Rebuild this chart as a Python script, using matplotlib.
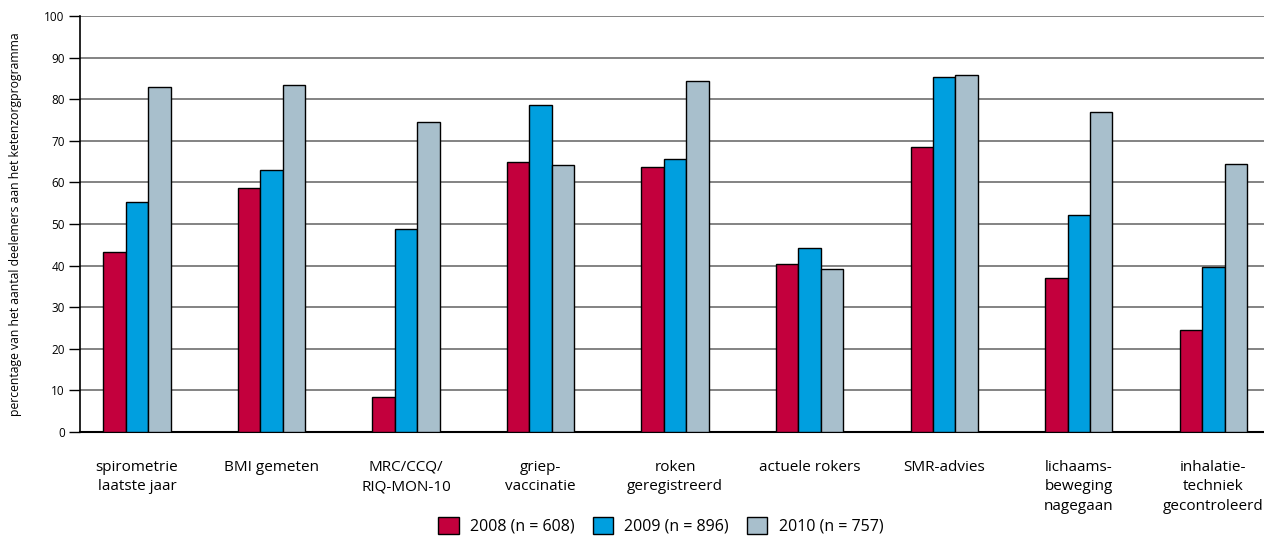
import numpy as np
import matplotlib
matplotlib.use("Agg")
import matplotlib.pyplot as plt

plt.rcParams['font.family'] = ['Open Sans', 'DejaVu Sans']

# categorieen en waarden (percentages)
categories = ['spirometrie\nlaatste jaar', 'BMI gemeten', 'MRC/CCQ/\nRIQ-MON-10',
              'griep-\nvaccinatie', 'roken\ngeregistreerd', 'actuele rokers',
              'SMR-advies', 'lichaams-\nbeweging\nnagegaan',
              'inhalatie-\ntechniek\ngecontroleerd']
v2008 = [43.2, 58.7, 8.3, 65.0, 63.7, 40.4, 68.6, 37.0, 24.4]
v2009 = [55.4, 63.1, 48.7, 78.6, 65.7, 44.3, 85.4, 52.1, 39.7]
v2010 = [83.0, 83.4, 74.4, 64.2, 84.3, 39.3, 85.8, 77.0, 64.5]
labels = ['2008 (n = 608)', '2009 (n = 896)', '2010 (n = 757)']
colors = ['#C3003D', '#009FDF', '#A8BFCC']

fig = plt.figure(figsize=(12.64, 5.36), dpi=100)
ax = fig.add_axes([80/1264, 1-432/536, 1210/1264, 416/536])

x = np.arange(len(categories))
w = 0.167
for k, (vals, c, lab) in enumerate(zip([v2008, v2009, v2010], colors, labels)):
    ax.bar(x + (k-1)*w, vals, w, color=c, edgecolor='black', linewidth=1,
           label=lab, zorder=3)

ax.set_xlim(-0.424, 8.57)
ax.set_ylim(0, 100)
ax.set_yticks(range(0, 101, 10))
ax.yaxis.grid(True, color='#6e6e6e', linewidth=1.2, zorder=0)
ax.tick_params(axis='y', length=8, width=1, labelsize=8.5, pad=3)
ax.tick_params(axis='x', length=0, labelsize=11, pad=20)
ax.set_xticks(x)
ax.set_xticklabels(categories, linespacing=1.4)
for s in ['top', 'right']:
    ax.spines[s].set_visible(False)
ax.spines['left'].set_linewidth(1.2)
ax.spines['bottom'].set_linewidth(1.5)

ax.set_ylabel('percentage van het aantal deelemers aan het ketenzorgprogramma',
              fontsize=8.8, labelpad=16)

ax.legend(loc='center', bbox_to_anchor=(0.48, -0.225), ncol=3, frameon=False,
          fontsize=11.5, handlelength=1.3, handleheight=1.3, handletextpad=0.7,
          columnspacing=1.1)

fig.savefig('out.png', dpi=100)
